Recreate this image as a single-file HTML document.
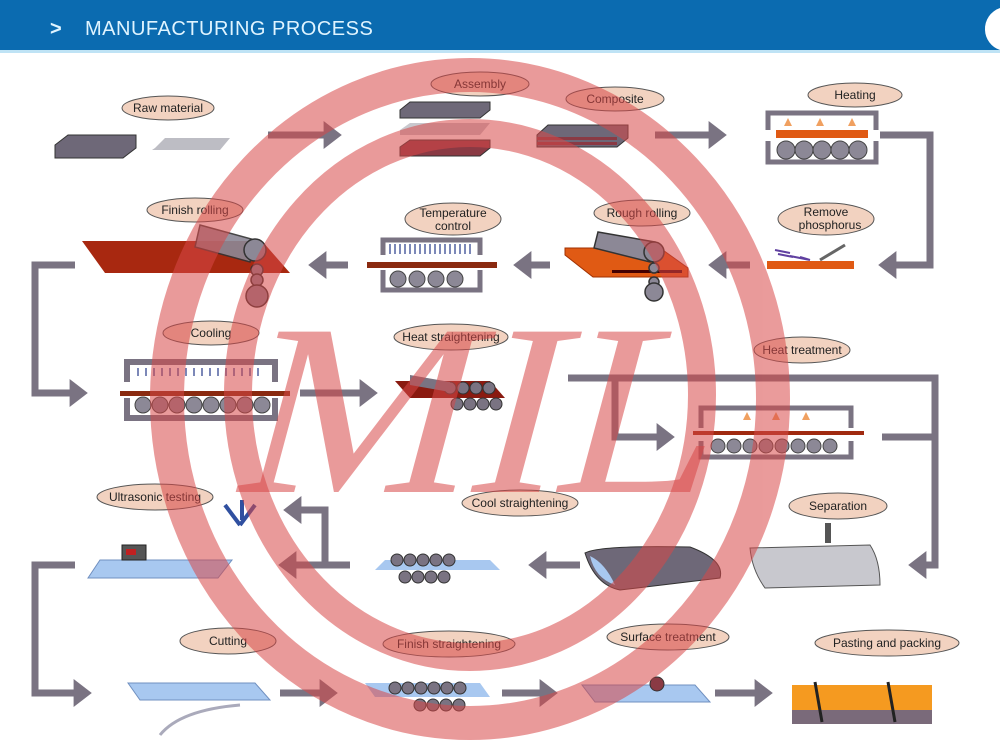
<!DOCTYPE html>
<html><head><meta charset="utf-8"><style>
html,body{margin:0;padding:0;background:#fff;}
svg{display:block;}
.s{font-family:"Liberation Sans",sans-serif;}
</style></head><body>
<svg width="1000" height="755" viewBox="0 0 1000 755" xmlns="http://www.w3.org/2000/svg">
<defs>
<marker id="ah" markerWidth="4" markerHeight="4" refX="1.2" refY="2" orient="auto" markerUnits="strokeWidth"><path d="M0,0 L2.6,2 L0,4 Z" fill="#7a7382"/></marker>
</defs>
<rect width="1000" height="755" fill="#fff"/>
<rect x="0" y="0" width="1000" height="50" fill="#0b6bb0"/>
<rect x="0" y="50" width="1000" height="3" fill="#bfe3f5"/>
<path d="M1000,8 A22,22 0 0 0 985,30 A22,22 0 0 0 1000,50 Z" fill="#fff"/>
<text class="s" x="50" y="35" font-size="20" fill="#dff4ff" font-weight="bold">&gt;</text>
<text class="s" x="85" y="35" font-size="20" fill="#dff4ff" letter-spacing="0.5">MANUFACTURING PROCESS</text>

<g stroke="#7a7382" stroke-width="7" fill="none" marker-end="url(#ah)">
<line x1="268" y1="135" x2="332" y2="135"/>
<line x1="655" y1="135" x2="717" y2="135"/>
<polyline points="880,135 930,135 930,265 888,265"/>
<line x1="750" y1="265" x2="718" y2="265"/>
<line x1="550" y1="265" x2="523" y2="265"/>
<line x1="348" y1="265" x2="318" y2="265"/>
<polyline points="75,265 35,265 35,393 78,393"/>
<line x1="300" y1="393" x2="368" y2="393"/>
<polyline points="568,378 935,378 935,565 918,565"/>
<polyline points="615,378 615,437 665,437"/>
<line x1="882" y1="437" x2="935" y2="437" marker-end="none"/>
<line x1="580" y1="565" x2="538" y2="565"/>
<line x1="350" y1="565" x2="288" y2="565"/>
<polyline points="325,565 325,510 293,510"/>
<polyline points="75,565 35,565 35,693 82,693"/>
<line x1="280" y1="693" x2="328" y2="693"/>
<line x1="502" y1="693" x2="548" y2="693"/>
<line x1="715" y1="693" x2="763" y2="693"/>
</g>

<path d="M55,145 L68,135 L136,135 L136,148 L123,158 L55,158 Z" fill="#6e6878" stroke="#333" stroke-width="1"/>
<path d="M155,148 L165,138 L230,138 L220,150 L152,150 Z" fill="#bdbdc4"/>
<path d="M400,110 L410,102 L490,102 L490,110 L480,118 L400,118 Z" fill="#6e6878" stroke="#333"/>
<path d="M400,130 L410,123 L490,123 L480,135 L400,135 Z" fill="#c8c8ce"/>
<path d="M400,147 L410,140 L490,140 L490,148 L480,156 L400,156 Z" fill="#8a3a44" stroke="#333"/>
<path d="M537,135 L548,125 L628,125 L628,138 L617,147 L537,147 Z" fill="#6e6878" stroke="#333"/>
<rect x="537" y="137" width="80" height="3" fill="#8a3a44"/>
<rect x="537" y="142" width="80" height="3" fill="#8a3a44"/>
<path d="M768,130 L768,113 L876,113 L876,130" fill="none" stroke="#7a7382" stroke-width="5"/>
<path d="M768,141 L768,162 L876,162 L876,141" fill="none" stroke="#7a7382" stroke-width="5"/>
<rect x="776" y="130" width="92" height="8" fill="#e05a14"/>
<g fill="#8c8896" stroke="#444" stroke-width="1"><circle cx="786" cy="150" r="9"/><circle cx="804" cy="150" r="9"/><circle cx="822" cy="150" r="9"/><circle cx="840" cy="150" r="9"/><circle cx="858" cy="150" r="9"/></g>
<g fill="#f0a060"><path d="M788,118 l-4,8 h8z"/><path d="M820,118 l-4,8 h8z"/><path d="M852,118 l-4,8 h8z"/></g>
<path d="M82,241 L262,241 L290,273 L105,273 Z" fill="#a82810"/>
<g fill="#8c8896" stroke="#333" stroke-width="1.5">
<path d="M200,225 L255,240 L250,262 L195,247 Z" opacity="0.9"/>
<circle cx="255" cy="250" r="11"/>
<circle cx="257" cy="270" r="6"/>
<circle cx="257" cy="280" r="6"/>
<circle cx="257" cy="296" r="11"/>
</g>
<path d="M383,255 L383,240 L480,240 L480,255" fill="none" stroke="#7a7382" stroke-width="5"/>
<path d="M383,270 L383,290 L480,290 L480,270" fill="none" stroke="#7a7382" stroke-width="5"/>
<g stroke="#5060a0" stroke-width="1.5">
<path d="M390,244v10M395,244v10M400,244v10M405,244v10M410,244v10M415,244v10M420,244v10M425,244v10M430,244v10M435,244v10M440,244v10M445,244v10M450,244v10M455,244v10M460,244v10M465,244v10M470,244v10"/>
</g>
<rect x="367" y="262" width="130" height="6" fill="#8a2a10"/>
<g fill="#8c8896" stroke="#444"><circle cx="398" cy="279" r="8"/><circle cx="417" cy="279" r="8"/><circle cx="436" cy="279" r="8"/><circle cx="455" cy="279" r="8"/></g>
<path d="M565,248 L660,248 L688,268 L688,277 L593,277 L565,255 Z" fill="#e05a14" stroke="#a03000"/>
<rect x="612" y="270" width="70" height="3" fill="#400"/>
<g fill="#8c8896" stroke="#333" stroke-width="1.5">
<path d="M598,232 L655,242 L650,262 L594,248 Z"/>
<circle cx="654" cy="252" r="10"/><circle cx="654" cy="268" r="5"/><circle cx="654" cy="282" r="5"/><circle cx="654" cy="292" r="9"/>
</g>
<rect x="767" y="261" width="87" height="8" fill="#e05a14"/>
<path d="M775,250 l15,3 M778,254 l15,3 M790,256 l20,4 M800,257 l10,3" stroke="#6040a0" stroke-width="2"/>
<path d="M820,260 L845,245" stroke="#666" stroke-width="3"/>
<path d="M127,382 L127,362 L275,362 L275,382" fill="none" stroke="#7a7382" stroke-width="6"/>
<path d="M127,398 L127,418 L275,418 L275,398" fill="none" stroke="#7a7382" stroke-width="6"/>
<g stroke="#5060a0" stroke-width="1.5"><path d="M138,368v8M146,368v8M154,368v8M162,368v8M170,368v8M178,368v8M186,368v8M194,368v8M202,368v8M210,368v8M218,368v8M226,368v8M234,368v8M242,368v8M250,368v8M258,368v8"/></g>
<rect x="120" y="391" width="170" height="5" fill="#8a2a10"/>
<g fill="#8c8896" stroke="#444"><circle cx="143" cy="405" r="8"/><circle cx="160" cy="405" r="8"/><circle cx="177" cy="405" r="8"/><circle cx="194" cy="405" r="8"/><circle cx="211" cy="405" r="8"/><circle cx="228" cy="405" r="8"/><circle cx="245" cy="405" r="8"/><circle cx="262" cy="405" r="8"/></g>
<path d="M395,381 L490,381 L505,398 L410,398 Z" fill="#8a1a10"/>
<g fill="#7a7382" stroke="#333"><circle cx="450" cy="388" r="6"/><circle cx="463" cy="388" r="6"/><circle cx="476" cy="388" r="6"/><circle cx="489" cy="388" r="6"/><circle cx="457" cy="404" r="6"/><circle cx="470" cy="404" r="6"/><circle cx="483" cy="404" r="6"/><circle cx="496" cy="404" r="6"/></g>
<path d="M410,375 L450,382 L450,392 L410,385Z" fill="#7a7382"/>
<path d="M701,428 L701,408 L851,408 L851,428" fill="none" stroke="#7a7382" stroke-width="5"/>
<path d="M701,441 L701,457 L851,457 L851,441" fill="none" stroke="#7a7382" stroke-width="5"/>
<rect x="693" y="431" width="171" height="4" fill="#a02a10"/>
<g fill="#8c8896" stroke="#444"><circle cx="718" cy="446" r="7"/><circle cx="734" cy="446" r="7"/><circle cx="750" cy="446" r="7"/><circle cx="766" cy="446" r="7"/><circle cx="782" cy="446" r="7"/><circle cx="798" cy="446" r="7"/><circle cx="814" cy="446" r="7"/><circle cx="830" cy="446" r="7"/></g>
<g fill="#f0a060"><path d="M747,412 l-4,8 h8z"/><path d="M776,412 l-4,8 h8z"/><path d="M806,412 l-4,8 h8z"/></g>
<path d="M100,560 L232,560 L218,578 L88,578 Z" fill="#a8c8f0" stroke="#7090c0"/>
<rect x="122" y="545" width="24" height="15" fill="#555" stroke="#222"/>
<rect x="126" y="549" width="10" height="6" fill="#c02020"/>
<path d="M225,505 L240,525 M255,505 L240,525 M242,500 L242,520" stroke="#3050a0" stroke-width="4"/>
<path d="M385,560 L490,560 L500,570 L375,570 Z" fill="#a8c8f0"/>
<g fill="#7a7382" stroke="#333"><circle cx="397" cy="560" r="6"/><circle cx="410" cy="560" r="6"/><circle cx="423" cy="560" r="6"/><circle cx="436" cy="560" r="6"/><circle cx="449" cy="560" r="6"/><circle cx="405" cy="577" r="6"/><circle cx="418" cy="577" r="6"/><circle cx="431" cy="577" r="6"/><circle cx="444" cy="577" r="6"/></g>
<path d="M585,553 Q600,545 690,547 Q725,560 720,578 L620,590 Q595,585 585,553Z" fill="#6e6878" stroke="#333"/>
<path d="M590,556 Q605,563 615,585 Q595,578 590,556Z" fill="#a8c8f0"/>
<path d="M750,548 L870,545 Q880,560 880,585 L765,588 Q752,570 750,548Z" fill="#c8c8ce" stroke="#555"/>
<rect x="825" y="523" width="6" height="20" fill="#555"/>
<path d="M128,683 L255,683 L270,700 L140,700 Z" fill="#a8c8f0" stroke="#7090c0"/>
<path d="M160,735 Q180,710 240,705" stroke="#aab" stroke-width="3" fill="none"/>
<path d="M365,683 L480,683 L490,697 L375,697 Z" fill="#a8c8f0"/>
<g fill="#7a7382" stroke="#333"><circle cx="395" cy="688" r="6"/><circle cx="408" cy="688" r="6"/><circle cx="421" cy="688" r="6"/><circle cx="434" cy="688" r="6"/><circle cx="447" cy="688" r="6"/><circle cx="460" cy="688" r="6"/><circle cx="420" cy="705" r="6"/><circle cx="433" cy="705" r="6"/><circle cx="446" cy="705" r="6"/><circle cx="459" cy="705" r="6"/></g>
<path d="M582,685 L695,685 L710,702 L595,702 Z" fill="#a8c8f0" stroke="#7090c0"/>
<circle cx="657" cy="684" r="7" fill="#8a3a44" stroke="#333"/>
<rect x="792" y="685" width="140" height="30" fill="#f59a20"/>
<rect x="792" y="710" width="140" height="14" fill="#7a6a7a"/>
<path d="M815,682 L822,722 M888,682 L895,722" stroke="#222" stroke-width="3"/>

<g fill="#f2d2c0" stroke="#555" stroke-width="1">
<ellipse cx="168" cy="108" rx="46" ry="12"/>
<ellipse cx="480" cy="84" rx="49" ry="12"/>
<ellipse cx="615" cy="99" rx="49" ry="12"/>
<ellipse cx="855" cy="95" rx="47" ry="12"/>
<ellipse cx="195" cy="210" rx="48" ry="12"/>
<ellipse cx="453" cy="219" rx="48" ry="16"/>
<ellipse cx="642" cy="213" rx="48" ry="13"/>
<ellipse cx="826" cy="219" rx="48" ry="16"/>
<ellipse cx="211" cy="333" rx="48" ry="12"/>
<ellipse cx="451" cy="337" rx="57" ry="13"/>
<ellipse cx="802" cy="350" rx="48" ry="13"/>
<ellipse cx="155" cy="497" rx="58" ry="13"/>
<ellipse cx="520" cy="503" rx="58" ry="13"/>
<ellipse cx="838" cy="506" rx="49" ry="13"/>
<ellipse cx="228" cy="641" rx="48" ry="13"/>
<ellipse cx="449" cy="644" rx="66" ry="13"/>
<ellipse cx="668" cy="637" rx="61" ry="13"/>
<ellipse cx="887" cy="643" rx="72" ry="13"/>
</g>
<g class="s" font-size="12" fill="#222" text-anchor="middle">
<text x="168" y="112">Raw material</text>
<text x="480" y="88">Assembly</text>
<text x="615" y="103">Composite</text>
<text x="855" y="99">Heating</text>
<text x="195" y="214">Finish rolling</text>
<text x="453" y="217">Temperature</text>
<text x="453" y="230">control</text>
<text x="642" y="217">Rough rolling</text>
<text x="826" y="216">Remove</text>
<text x="830" y="229">phosphorus</text>
<text x="211" y="337">Cooling</text>
<text x="451" y="341">Heat straightening</text>
<text x="802" y="354">Heat treatment</text>
<text x="155" y="501">Ultrasonic testing</text>
<text x="520" y="507">Cool straightening</text>
<text x="838" y="510">Separation</text>
<text x="228" y="645">Cutting</text>
<text x="449" y="648">Finish straightening</text>
<text x="668" y="641">Surface treatment</text>
<text x="887" y="647">Pasting and packing</text>
</g>

<g opacity="0.55" fill="none" stroke="#d84848">
<ellipse cx="470" cy="399" rx="303" ry="324" stroke-width="34"/>
<ellipse cx="470" cy="395" rx="232" ry="262" stroke-width="28"/>
</g>
<g transform="skewX(-15)">
<text x="360" y="492" style="font-family:'Liberation Serif',serif;font-size:245px" fill="#d84848" opacity="0.55" textLength="480" lengthAdjust="spacingAndGlyphs">MIL</text>
</g>
</svg>
</body></html>
